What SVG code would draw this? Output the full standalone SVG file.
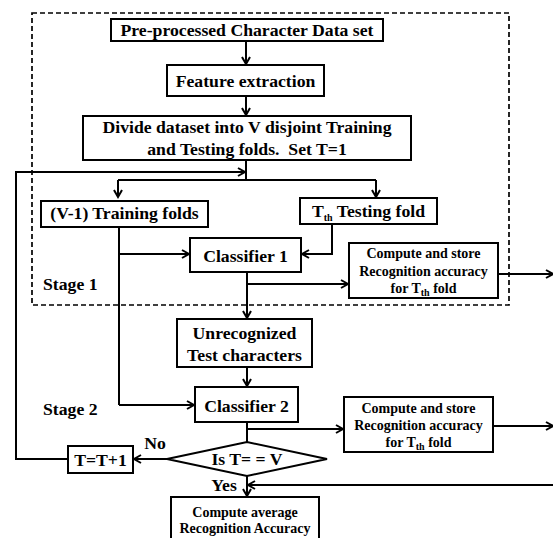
<svg xmlns="http://www.w3.org/2000/svg" width="553" height="538" viewBox="0 0 553 538">
<style>
.box{fill:#fff;stroke:#000;stroke-width:2}
.ln{fill:none;stroke:#000;stroke-width:2}
.arr{fill:none;stroke:#000;stroke-width:2;marker-end:url(#ah)}
text{font-family:"Liberation Serif","Times New Roman",serif;font-weight:bold;fill:#000;text-anchor:middle}
.t16{font-size:17.7px}
.t13{font-size:14px}
.sub{font-size:10px}
</style>
<defs>
<marker id="ah" markerWidth="10" markerHeight="10" refX="8" refY="5" orient="auto" markerUnits="userSpaceOnUse">
<path d="M1,1 L8,5 L1,9" fill="none" stroke="#000" stroke-width="2"/>
</marker>
</defs>
<rect x="32" y="13" width="477" height="292" fill="none" stroke="#000" stroke-width="1.7" stroke-dasharray="5,3"/>
<g id="connectors">
<path class="arr" d="M246,41 V64"/>
<path class="arr" d="M246,96 V115"/>
<path class="ln" d="M246,160 V180"/>
<path class="arr" d="M118,180 V197"/>
<path class="ln" d="M118,180 H376"/>
<path class="arr" d="M376,180 V197"/>
<path class="ln" d="M119,227 V405"/>
<path class="arr" d="M119,254 H189"/>
<path class="arr" d="M119,405 H194"/>
<path class="arr" d="M332,224 V254 H302"/>
<path class="arr" d="M247,272 V318"/>
<path class="arr" d="M247,284 H348"/>
<path class="arr" d="M498,274 H553"/>
<path class="arr" d="M247,367 V386"/>
<path class="ln" d="M247,422 V442"/>
<path class="arr" d="M247,429 H343"/>
<path class="arr" d="M493,426 H553"/>
<path class="arr" d="M167,459 H134"/>
<path class="arr" d="M68,459 H16 V172 H245"/>
<path class="arr" d="M247,476 V496"/>
<path class="arr" d="M553,485 H248"/>
</g>
<g id="n1"><rect class="box" x="111" y="19" width="272" height="22"/><text class="t16" x="247" y="36">Pre-processed Character Data set</text></g>
<g id="n2"><rect class="box" x="167" y="65" width="157" height="31"/><text class="t16" x="245.5" y="87">Feature extraction</text></g>
<g id="n3"><rect class="box" x="83" y="116" width="328" height="44"/><text class="t16" x="247" y="133">Divide dataset into V disjoint Training</text><text class="t16" x="247" y="155" xml:space="preserve">and Testing folds.  Set T=1</text></g>
<g id="n4"><rect class="box" x="41" y="201" width="167" height="26"/><text class="t16" x="124.5" y="219">(V-1) Training folds</text></g>
<g id="n5"><rect class="box" x="300" y="198" width="137" height="26"/><text class="t16" x="368.5" y="217">T<tspan class="sub" dy="4">th</tspan><tspan dy="-4"> Testing fold</tspan></text></g>
<g id="n6"><rect class="box" x="190" y="238" width="111" height="34"/><text class="t16" x="245.5" y="262">Classifier 1</text></g>
<g id="n7"><rect class="box" x="349" y="243" width="149" height="55"/><text class="t13" x="423.5" y="258">Compute and store</text><text class="t13" x="423.5" y="276">Recognition accuracy</text><text class="t13" x="423.5" y="293">for T<tspan class="sub" dy="3">th</tspan><tspan dy="-3"> fold</tspan></text></g>
<g id="stage1"><text class="t16" x="43" y="290" style="text-anchor:start">Stage 1</text></g>
<g id="n8"><rect class="box" x="177" y="319" width="135" height="48"/><text class="t16" x="244.5" y="339">Unrecognized</text><text class="t16" x="244.5" y="361">Test characters</text></g>
<g id="n9"><rect class="box" x="195" y="387" width="103" height="35"/><text class="t16" x="246.5" y="412">Classifier 2</text></g>
<g id="stage2"><text class="t16" x="43" y="415" style="text-anchor:start">Stage 2</text></g>
<g id="n10"><rect class="box" x="344" y="397" width="149" height="55"/><text class="t13" x="418.5" y="413">Compute and store</text><text class="t13" x="418.5" y="430">Recognition accuracy</text><text class="t13" x="418.5" y="447">for T<tspan class="sub" dy="3">th</tspan><tspan dy="-3"> fold</tspan></text></g>
<g id="n11"><path class="box" d="M167,459 L247,442 L327,459 L247,476 Z"/><text class="t16" x="247" y="465">Is T= = V</text></g>
<g id="n12"><rect class="box" x="68" y="446" width="65" height="27"/><text class="t16" x="100.5" y="466">T=T+1</text></g>
<g id="labels"><text class="t16" x="155" y="449">No</text><text class="t16" x="224" y="491">Yes</text></g>
<g id="n13"><rect class="box" x="171" y="497" width="148" height="50"/><text class="t13" x="245" y="517">Compute average</text><text class="t13" x="245" y="533">Recognition Accuracy</text></g>
</svg>
